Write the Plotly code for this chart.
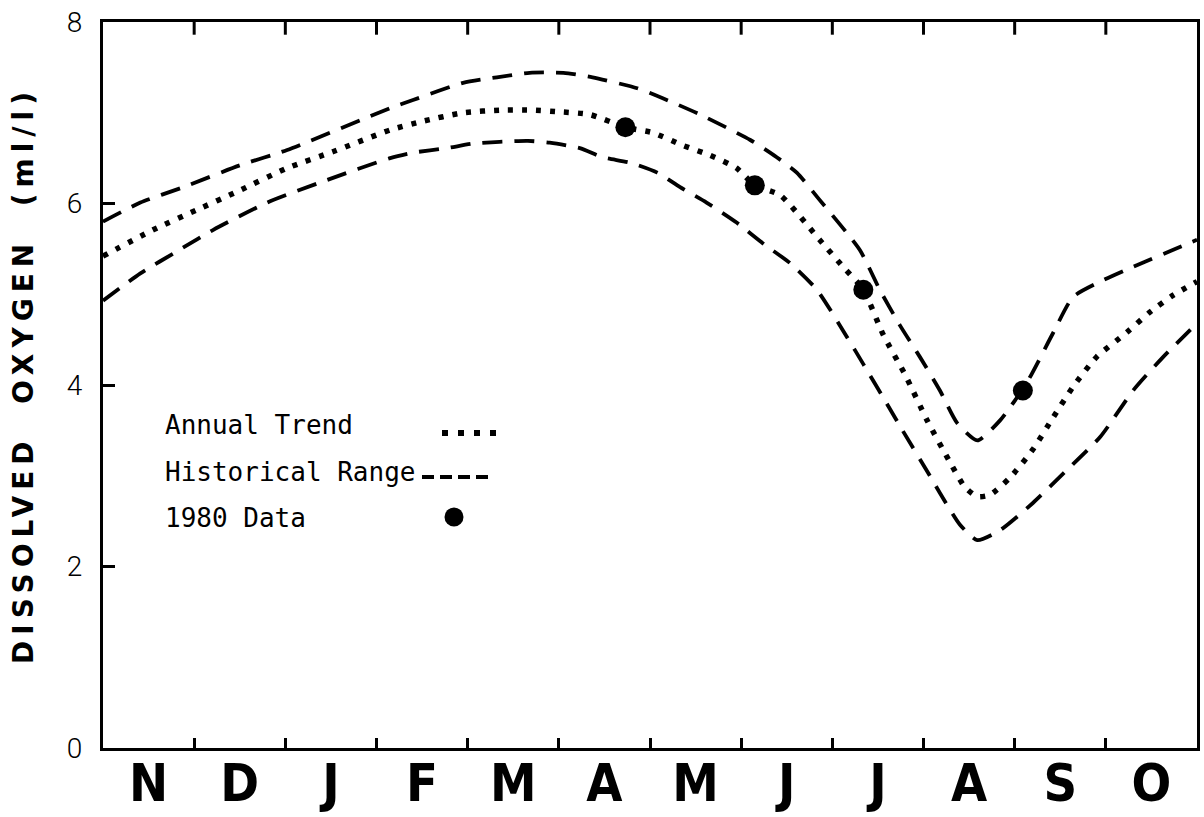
import plotly.graph_objects as go

# ---------------- data ----------------
months = ["N", "D", "J", "F", "M", "A", "M", "J", "J", "A", "S", "O"]
month_bounds = list(range(1, 12))

# Historical range - upper envelope (x in months from start of Nov)
upper_x = [0.0, 0.41, 0.88, 1.50, 2.02, 3.15, 3.40, 3.95, 4.32, 4.68, 5.05, 5.37, 5.86, 6.14,
           6.55, 7.10, 7.39, 7.61, 7.86, 8.30, 8.52, 8.74, 8.96, 9.18, 9.37, 9.59, 9.84,
           10.13, 10.42, 10.64, 10.94, 11.34, 11.74, 12.0]
upper_y = [5.80, 6.01, 6.18, 6.42, 6.59, 7.05, 7.14, 7.33, 7.39, 7.44, 7.44, 7.39, 7.27, 7.16,
           6.98, 6.70, 6.51, 6.34, 6.04, 5.49, 5.05, 4.66, 4.31, 3.94, 3.58, 3.39, 3.61,
           4.02, 4.57, 4.97, 5.14, 5.32, 5.49, 5.60]

# Annual trend (dotted)
trend_x = [0.0, 0.55, 1.03, 1.47, 2.02, 2.52, 3.15, 3.48, 3.95, 4.39, 4.68, 5.01, 5.34, 5.73,
           6.03, 6.36, 6.66, 6.95, 7.15, 7.43, 7.86, 8.12, 8.34, 8.56, 8.80, 9.04, 9.29,
           9.45, 9.59, 9.73, 9.95, 10.20, 10.42, 10.64, 10.90, 11.23, 11.48, 11.74, 12.0]
trend_y = [5.42, 5.71, 5.93, 6.13, 6.39, 6.57, 6.81, 6.90, 7.00, 7.03, 7.03, 7.01, 6.98, 6.84,
           6.78, 6.64, 6.53, 6.39, 6.20, 6.09, 5.60, 5.30, 5.05, 4.55, 4.11, 3.61, 3.15,
           2.88, 2.77, 2.79, 2.98, 3.29, 3.64, 3.98, 4.31, 4.58, 4.80, 4.99, 5.14]

# Historical range - lower envelope
lower_x = [0.0, 0.41, 0.84, 1.21, 1.80, 2.46, 3.15, 3.40, 3.77, 4.06, 4.35, 4.66, 4.90, 5.23,
           5.48, 5.78, 6.08, 6.33, 6.62, 6.95, 7.24, 7.54, 7.83, 8.16, 8.34, 8.60, 8.77,
           9.04, 9.18, 9.40, 9.59, 9.84, 10.20, 10.57, 10.94, 11.30, 11.63, 12.0]
lower_y = [4.93, 5.23, 5.49, 5.71, 6.01, 6.26, 6.50, 6.56, 6.61, 6.66, 6.68, 6.69, 6.67, 6.61,
           6.51, 6.45, 6.34, 6.18, 6.01, 5.79, 5.56, 5.34, 5.05, 4.53, 4.23, 3.79, 3.50,
           3.05, 2.81, 2.46, 2.29, 2.40, 2.70, 3.06, 3.43, 3.94, 4.31, 4.68]

# 1980 observations
obs_x = [5.73, 7.15, 8.34, 10.09]
obs_y = [6.84, 6.20, 5.05, 3.94]

y_ticks = [0, 2, 4, 6, 8]

legend_labels = ["Annual Trend", "Historical Range", "1980 Data"]

# ---------------- figure ----------------
W, H = 1204, 817
ML, MR, MT, MB = 103, 7, 22, 69
PW, PH = W - ML - MR, H - MT - MB


def px(x):
    return (x - ML) / PW


def py(y):
    return (H - MB - y) / PH


dash_style = "20px,12px"
dot_style = "5px,9px"

fig = go.Figure()
fig.add_trace(go.Scatter(x=upper_x, y=upper_y, mode="lines",
                         line=dict(color="black", width=3.8, dash=dash_style,
                                   shape="spline", smoothing=0.6),
                         showlegend=False, hoverinfo="skip"))
fig.add_trace(go.Scatter(x=lower_x, y=lower_y, mode="lines",
                         line=dict(color="black", width=3.8, dash=dash_style,
                                   shape="spline", smoothing=0.6),
                         showlegend=False, hoverinfo="skip"))
fig.add_trace(go.Scatter(x=trend_x, y=trend_y, mode="lines",
                         line=dict(color="black", width=5.5, dash=dot_style,
                                   shape="spline", smoothing=0.6),
                         showlegend=False, hoverinfo="skip"))
fig.add_trace(go.Scatter(x=obs_x, y=obs_y, mode="markers", xaxis="x2",
                         marker=dict(color="black", size=20, symbol="circle"),
                         showlegend=False))

narrow = "DejaVu Sans Condensed, Liberation Sans Narrow, Roboto, sans-serif"

fig.update_layout(
    width=W, height=H,
    margin=dict(l=ML, r=MR, t=MT, b=MB, pad=0),
    paper_bgcolor="white", plot_bgcolor="white",
    showlegend=False,
    xaxis=dict(
        range=[0, 12],
        tickmode="array",
        tickvals=month_bounds,
        ticks="inside", ticklen=10, tickwidth=3, tickcolor="black",
        showticklabels=False,
        showline=True, linecolor="black", linewidth=3,
        mirror=True,
        showgrid=False, zeroline=False,
        automargin=False,
    ),
    xaxis2=dict(
        range=[0, 12],
        matches="x",
        overlaying="x", side="bottom", anchor="y",
        tickmode="array",
        tickvals=[i + 0.5 for i in range(12)],
        ticktext=months,
        ticks="",
        tickfont=dict(family=narrow, size=52, color="black", weight="bold"),
        ticklabelstandoff=0,
        showline=False,
        showgrid=False, zeroline=False,
        automargin=False,
    ),
    yaxis=dict(
        range=[0, 8],
        tickmode="array",
        tickvals=y_ticks,
        ticktext=[str(v) for v in y_ticks],
        ticks="inside", ticklen=12, tickwidth=2.5, tickcolor="black",
        tickfont=dict(family="Roboto, DejaVu Sans Condensed, sans-serif", size=28,
                      color="black", weight=300),
        ticklabelstandoff=12,
        showline=True, linecolor="black", linewidth=3,
        mirror=True,
        showgrid=False, zeroline=False,
        automargin=False,
    ),
)

# month-boundary ticks hanging from the top frame (drawn as a marker-free tick trace)
top_tick_x = []
top_tick_y = []
for b in month_bounds:
    top_tick_x += [b, b, None]
    top_tick_y += [8.0, 7.86, None]
fig.add_trace(go.Scatter(x=top_tick_x, y=top_tick_y, mode="lines",
                         line=dict(color="black", width=3),
                         showlegend=False, hoverinfo="skip", cliponaxis=False))

# y-axis title
fig.add_annotation(
    xref="paper", yref="paper", x=px(23), y=py(375),
    text='<span style="letter-spacing:6px">DISSOLVED  OXYGEN  (ml/l)</span>',
    textangle=-90, showarrow=False, xanchor="center", yanchor="middle",
    font=dict(family="DejaVu Sans", size=28, color="black", weight="bold"),
)

# legend text
mono = "DejaVu Sans Mono, Liberation Mono, monospace"
for lab, ypix in zip(legend_labels, [425, 472, 518]):
    fig.add_annotation(xref="paper", yref="paper", x=px(163), y=py(ypix),
                       text=lab, showarrow=False, xanchor="left", yanchor="middle",
                       font=dict(family=mono, size=26, color="black"))

# legend samples
fig.add_shape(type="line", xref="paper", yref="paper",
              x0=px(442), x1=px(496), y0=py(433), y1=py(433),
              line=dict(color="black", width=6, dash="6px,10px"))
fig.add_shape(type="line", xref="paper", yref="paper",
              x0=px(422), x1=px(489), y0=py(477), y1=py(477),
              line=dict(color="black", width=3.8, dash="12px,6px"))
fig.add_shape(type="circle", xref="paper", yref="paper",
              x0=px(444.5), x1=px(463.5), y0=py(526.5), y1=py(507.5),
              fillcolor="black", line=dict(color="black", width=0))

fig.write_html("out.html")
